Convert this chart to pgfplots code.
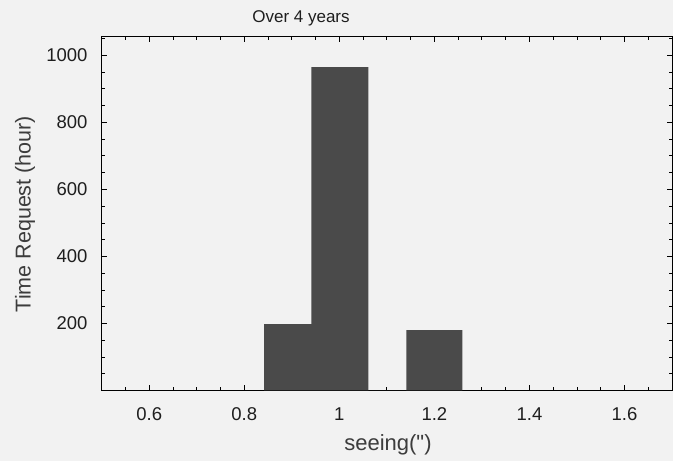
\documentclass[border=0pt]{standalone}
\usepackage{fontspec}
\setmainfont{Liberation Sans}
\newfontfamily\qfont{Liberation Sans}[Ligatures=TeXOff]
\usepackage{pgfplots}
\pgfplotsset{compat=1.18}
\definecolor{bgc}{HTML}{F2F2F2}
\definecolor{barc}{HTML}{4A4A4A}
\definecolor{txt}{HTML}{1E1E1E}
\definecolor{lab}{HTML}{3C3C3C}
\begin{document}
\begin{tikzpicture}
\fill[bgc] (0,0) rectangle (673bp,461bp);
\begin{axis}[
  at={(101.7bp,70.5bp)}, anchor=south west,
  scale only axis, width=570.3bp, height=353.5bp,
  xmin=0.5, xmax=1.7, ymin=0, ymax=1055,
  axis background/.style={fill=bgc},
  axis line style={black, line width=1bp},
  xtick={0.6,0.8,1,1.2,1.4,1.6},
  xticklabels={0.6,0.8,1,1.2,1.4,1.6},
  minor xtick={0.55,0.65,0.7,0.75,0.85,0.9,0.95,1.05,1.1,1.15,1.25,1.3,1.35,1.45,1.5,1.55,1.65},
  ytick={200,400,600,800,1000},
  yticklabels={200,400,600,800,1000},
  minor ytick={50,100,150,250,300,350,450,500,550,650,700,750,850,900,950,1050},
  tick align=inside,
  major tick length=5bp, minor tick length=3bp,
  every tick/.style={black, line width=0.9bp},
  /pgf/number format/assume math mode=true,
  /pgf/number format/1000 sep={},
  xticklabel style={font=\fontsize{18.5bp}{22bp}\selectfont, text=txt, anchor=base, inner sep=0pt, yshift=-30bp},
  yticklabel style={font=\fontsize{18.5bp}{22bp}\selectfont, text=txt, anchor=east, inner sep=0pt, xshift=-14bp},
  xlabel={seeing({\qfont\symbol{34}})},
  xlabel style={at={(axis description cs:0.502,-0.154)}, anchor=center, font=\fontsize{22bp}{26bp}\selectfont, text=lab},
  ylabel={Time Request (hour)},
  ylabel style={at={(axis description cs:-0.1345,0.499)}, anchor=center, rotate=0, font=\fontsize{21.5bp}{25bp}\selectfont, text=lab},
  title={Over 4 years},
  title style={at={(axis description cs:0.3495,1.035)}, anchor=center, font=\fontsize{17bp}{20bp}\selectfont, text=txt},
]
\addplot[ybar interval, fill=barc, draw=none] coordinates {
  (0.842,198) (0.941,965) (1.061,0) (1.141,180) (1.259,0)
};
\end{axis}
\pgfresetboundingbox
\useasboundingbox (0,0) rectangle (673bp,461bp);
\end{tikzpicture}
\end{document}
